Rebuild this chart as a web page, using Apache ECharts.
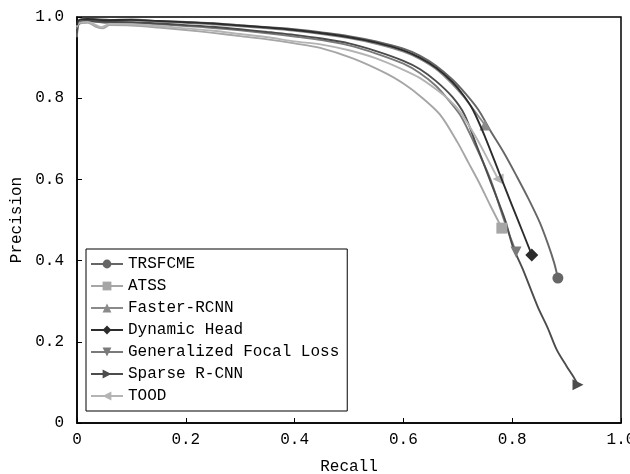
<!DOCTYPE html>
<html>
<head>
<meta charset="utf-8">
<script src="https://cdn.jsdelivr.net/npm/echarts@6/dist/echarts.min.js"></script>
<style>
html,body{margin:0;padding:0;background:#fff;}
#chart{width:630px;height:474px;}
</style>
</head>
<body>
<div id="chart"></div>
<script>
var seriesNames = ['TRSFCME','ATSS','Faster-RCNN','Dynamic Head','Generalized Focal Loss','Sparse R-CNN','TOOD'];
var xTicks = [0, 0.2, 0.4, 0.6, 0.8, 1.0];
var yTicks = [0, 0.2, 0.4, 0.6, 0.8, 1.0];

var trsfcme = [[0,0.95],[0.003,0.99],[0.01,0.993],[0.03,0.995],[0.06,0.993],[0.1,0.994],[0.15,0.99],[0.2,0.988],[0.25,0.985],[0.3,0.98],[0.35,0.975],[0.4,0.97],[0.45,0.962],[0.5,0.953],[0.55,0.94],[0.6,0.922],[0.63,0.905],[0.66,0.88],[0.69,0.846],[0.715,0.81],[0.738,0.771],[0.76,0.72],[0.785,0.665],[0.809,0.606],[0.83,0.552],[0.851,0.493],[0.866,0.44],[0.877,0.395],[0.884,0.357]];
var atss = [[0,0.97],[0.004,0.983],[0.02,0.986],[0.035,0.976],[0.048,0.972],[0.06,0.98],[0.1,0.979],[0.15,0.974],[0.2,0.968],[0.25,0.961],[0.3,0.953],[0.35,0.945],[0.4,0.935],[0.447,0.924],[0.507,0.898],[0.57,0.86],[0.6,0.836],[0.631,0.805],[0.667,0.76],[0.7,0.69],[0.72,0.64],[0.74,0.59],[0.76,0.535],[0.781,0.48]];
var fasterRcnn = [[0,0.975],[0.004,0.99],[0.02,0.994],[0.05,0.99],[0.1,0.992],[0.15,0.989],[0.2,0.986],[0.25,0.982],[0.3,0.977],[0.35,0.972],[0.4,0.966],[0.45,0.958],[0.5,0.948],[0.55,0.934],[0.6,0.915],[0.63,0.897],[0.66,0.872],[0.69,0.835],[0.71,0.805],[0.73,0.77],[0.75,0.734]];
var dynamicHead = [[0,0.98],[0.003,0.992],[0.02,0.995],[0.05,0.992],[0.1,0.993],[0.15,0.99],[0.2,0.987],[0.25,0.984],[0.3,0.979],[0.35,0.974],[0.4,0.968],[0.45,0.96],[0.5,0.95],[0.55,0.937],[0.6,0.918],[0.63,0.9],[0.66,0.875],[0.69,0.84],[0.71,0.808],[0.728,0.771],[0.75,0.705],[0.775,0.62],[0.8,0.535],[0.82,0.468],[0.836,0.414]];
var gfl = [[0,0.975],[0.004,0.985],[0.02,0.99],[0.05,0.986],[0.1,0.986],[0.15,0.982],[0.2,0.978],[0.25,0.973],[0.3,0.967],[0.35,0.96],[0.4,0.952],[0.45,0.943],[0.5,0.93],[0.55,0.91],[0.6,0.885],[0.63,0.862],[0.66,0.83],[0.685,0.792],[0.706,0.755],[0.73,0.69],[0.76,0.6],[0.785,0.5],[0.807,0.421]];
var sparseRcnn = [[0,0.96],[0.004,0.985],[0.02,0.99],[0.05,0.988],[0.1,0.987],[0.15,0.984],[0.2,0.98],[0.25,0.976],[0.3,0.97],[0.35,0.963],[0.4,0.956],[0.45,0.947],[0.5,0.935],[0.55,0.916],[0.6,0.892],[0.63,0.872],[0.66,0.842],[0.69,0.803],[0.712,0.76],[0.735,0.682],[0.759,0.599],[0.787,0.5],[0.801,0.435],[0.82,0.377],[0.847,0.286],[0.865,0.235],[0.882,0.18],[0.9,0.14],[0.912,0.115],[0.921,0.094]];
var tood = [[0,0.975],[0.004,0.985],[0.02,0.988],[0.035,0.98],[0.045,0.975],[0.06,0.983],[0.1,0.982],[0.15,0.978],[0.2,0.972],[0.25,0.966],[0.3,0.958],[0.35,0.95],[0.4,0.94],[0.45,0.932],[0.5,0.918],[0.55,0.898],[0.6,0.87],[0.63,0.85],[0.66,0.822],[0.685,0.795],[0.705,0.765],[0.735,0.7],[0.755,0.65],[0.774,0.601]];

var seriesData = [trsfcme, atss, fasterRcnn, dynamicHead, gfl, sparseRcnn, tood];
var colors = ['#666666','#a6a6a6','#8a8a8a','#2c2c2c','#7a7a7a','#4c4c4c','#b4b4b4'];
var symbols = ['circle','rect','triangle','diamond','triangle','triangle','triangle'];
var rotates = [0,0,0,0,180,-90,90];
var sizes = [11,11,11,13,11,11,11];

var FONT = '"Liberation Mono", monospace';

function buildData(arr, idx){
  return arr.map(function(p, i){
    if (i === arr.length - 1) {
      return {value: p, symbol: symbols[idx], symbolSize: sizes[idx], symbolRotate: rotates[idx]};
    }
    return {value: p, symbol: 'none'};
  });
}

var series = seriesNames.map(function(name, i){
  return {
    name: name,
    type: 'line',
    data: buildData(seriesData[i], i),
    symbol: symbols[i],
    symbolSize: sizes[i],
    symbolRotate: rotates[i],
    showSymbol: true,
    smooth: 0.3,
    lineStyle: {color: colors[i], width: 1.9},
    itemStyle: {color: colors[i]},
    z: 2 + (i === 3 ? 3 : 0),
    animation: false
  };
});

var chart = echarts.init(document.getElementById('chart'), null, {renderer: 'canvas'});
chart.setOption({
  animation: false,
  backgroundColor: '#fff',
  grid: {left: 77, right: 9, top: 17, bottom: 51, outerBoundsMode: 'none', containLabel: false,
    show: true, borderColor: '#000', borderWidth: 1.5, backgroundColor: 'transparent'},
  legend: {
    orient: 'vertical',
    left: 86,
    top: 249,
    data: seriesNames,
    itemWidth: 32,
    itemHeight: 11,
    itemGap: 6,
    itemTextGap: 8,
    padding: [7, 8, 7, 4],
    borderColor: '#000',
    borderWidth: 1,
    backgroundColor: '#fff',
    textStyle: {fontFamily: FONT, fontSize: 16, color: '#000', lineHeight: 16},
    symbolRotate: 'inherit'
  },
  xAxis: {
    type: 'value', min: xTicks[0], max: xTicks[xTicks.length-1], interval: 0.2,
    name: 'Recall', nameLocation: 'middle', nameGap: 36,
    nameTextStyle: {fontFamily: FONT, fontSize: 16, color: '#000'},
    axisLine: {show: true, lineStyle: {color: '#000', width: 1.5}},
    axisTick: {show: true, inside: true, length: 5, lineStyle: {color: '#000', width: 1}},
    axisLabel: {fontFamily: FONT, fontSize: 16, color: '#000', margin: 9,
      formatter: function(v){ return v === 0 ? '0' : v.toFixed(1); }},
    splitLine: {show: false}
  },
  yAxis: {
    type: 'value', min: yTicks[0], max: yTicks[yTicks.length-1], interval: 0.2,
    name: 'Precision', nameLocation: 'middle', nameGap: 52,
    nameTextStyle: {fontFamily: FONT, fontSize: 16, color: '#000'},
    axisLine: {show: true, lineStyle: {color: '#000', width: 1.5}},
    axisTick: {show: true, inside: true, length: 5, lineStyle: {color: '#000', width: 1}},
    axisLabel: {fontFamily: FONT, fontSize: 16, color: '#000', margin: 13,
      formatter: function(v){ return v === 0 ? '0' : v.toFixed(1); }},
    splitLine: {show: false}
  },
  series: series
});
</script>
</body>
</html>
